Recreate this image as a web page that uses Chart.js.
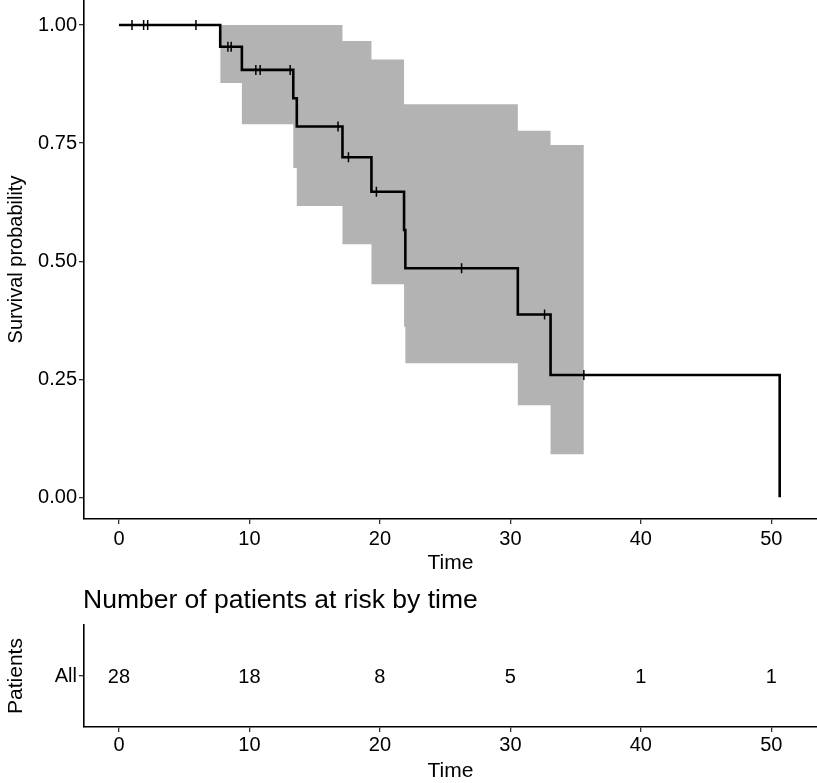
<!DOCTYPE html>
<html><head><meta charset="utf-8">
<script src="https://cdn.jsdelivr.net/npm/chart.js@4.4.1/dist/chart.umd.min.js"></script>
<style>
html,body{margin:0;padding:0;background:#fff;}
#wrap{position:relative;width:817px;height:783px;overflow:hidden;background:#fff;}
#c1{position:absolute;left:0;top:0;}
#c2{position:absolute;left:0;top:580px;}
</style></head><body>
<div id="wrap"><canvas id="c1" width="817" height="580"></canvas><canvas id="c2" width="817" height="203"></canvas></div>
<script>
// Kaplan-Meier estimate (step function)
const kmTimes = [0, 7.76, 9.42, 13.36, 13.63, 17.13, 19.35, 21.85, 21.95, 30.57, 33.08, 50.64];
const kmSurv  = [1, 0.954, 0.905, 0.845, 0.785, 0.720, 0.647, 0.566, 0.485, 0.387, 0.259, 0];
// Confidence band
const ciTimes = [7.76, 9.42, 13.36, 13.63, 17.13, 19.35, 21.85, 21.95, 30.57, 33.08, 35.63];
const ciUpper = [1, 1, 1, 1, 0.966, 0.927, 0.832, 0.832, 0.776, 0.746, 0.746];
const ciLower = [0.877, 0.790, 0.697, 0.617, 0.536, 0.451, 0.361, 0.284, 0.195, 0.091, 0.091];
// Censored observations
const censorTimes = [1.0, 1.89, 2.2, 5.9, 8.35, 8.6, 10.49, 10.82, 13.12, 16.79, 17.59, 19.73, 26.26, 32.62, 35.63];
const censorSurv  = [1, 1, 1, 1, 0.954, 0.954, 0.905, 0.905, 0.905, 0.785, 0.720, 0.647, 0.485, 0.387, 0.259];
// Axes
const xTicks = [0, 10, 20, 30, 40, 50];
const yTicks = [0, 0.25, 0.5, 0.75, 1];
// Risk table
const riskGroups = ['All'];
const riskTimes  = [0, 10, 20, 30, 40, 50];
const riskCounts = [28, 18, 8, 5, 1, 1];
const riskTitle = 'Number of patients at risk by time';

const FONT = "'Liberation Sans', Arial, Helvetica, sans-serif";
Chart.defaults.font.family = FONT;
Chart.defaults.color = '#000';

const pts = (xs, ys) => xs.map((x, i) => ({x: x, y: ys[i]}));
const noPad = s => { s.paddingTop = 0; s.paddingBottom = 0; s.paddingLeft = 0; s.paddingRight = 0; };

function xScale(height, tickPad, titlePadBottom) {
  return {
    type: 'linear', min: -2.68, max: 53.5,
    afterBuildTicks: s => { s.ticks = xTicks.map(v => ({value: v})); },
    afterFit: s => { s.height = height; noPad(s); },
    ticks: { font: {size: 20}, color: '#000', padding: tickPad, maxRotation: 0, autoSkip: false, callback: v => String(v) },
    grid: { drawOnChartArea: false, drawTicks: true, tickLength: 5, color: '#333', lineWidth: 1.3 },
    border: { display: true, color: '#000', width: 1.6 },
    title: { display: true, text: 'Time', font: {size: 21}, color: '#000', padding: {top: 0, bottom: titlePadBottom} }
  };
}

new Chart(document.getElementById('c1'), {
  type: 'line',
  data: { datasets: [
    { label: 'upper', data: pts(ciTimes, ciUpper), stepped: true, borderWidth: 1, borderColor: 'rgba(0,0,0,0)',
      pointRadius: 0, fill: 1, backgroundColor: '#b3b3b3', order: 3 },
    { label: 'lower', data: pts(ciTimes, ciLower), stepped: true, borderWidth: 1, borderColor: 'rgba(0,0,0,0)',
      pointRadius: 0, fill: false, order: 3 },
    { label: 'km', data: pts(kmTimes, kmSurv), stepped: true, borderColor: '#000', borderWidth: 2.6,
      pointRadius: 0, fill: false, order: 1 },
    { label: 'censor', data: pts(censorTimes, censorSurv), showLine: false, pointStyle: 'line', pointRotation: 90,
      pointRadius: 5, pointBorderColor: '#000', pointBorderWidth: 1.5, pointBackgroundColor: '#000', order: 0 }
  ]},
  options: {
    responsive: false, animation: false, events: [],
    layout: { padding: 0, autoPadding: false },
    plugins: { legend: {display: false}, tooltip: {enabled: false} },
    scales: {
      x: xScale(61, 3, 4.5),
      y: {
        type: 'linear', min: -0.046, max: 1.053,
        afterBuildTicks: s => { s.ticks = yTicks.map(v => ({value: v})); },
        afterFit: s => { s.width = 84; noPad(s); },
        ticks: { font: {size: 20}, color: '#000', padding: 2, callback: v => Number(v).toFixed(2) },
        grid: { drawOnChartArea: false, drawTicks: true, tickLength: 5, color: '#333', lineWidth: 1.3 },
        border: { display: true, color: '#000', width: 1.6 },
        title: { display: true, text: 'Survival probability', font: {size: 20}, color: '#000', padding: {top: 4, bottom: 0} }
      }
    }
  }
});

const riskTextPlugin = {
  id: 'riskText',
  afterDatasetsDraw(chart) {
    const ctx = chart.ctx;
    const meta = chart.getDatasetMeta(0);
    ctx.save();
    ctx.font = '20px ' + FONT;
    ctx.fillStyle = '#000';
    ctx.textAlign = 'center';
    ctx.textBaseline = 'middle';
    meta.data.forEach((el, i) => { ctx.fillText(String(riskCounts[i]), el.x, el.y + 1); });
    ctx.restore();
  },
  afterDraw(chart) {
    const ctx = chart.ctx;
    ctx.save();
    ctx.font = '26.5px ' + FONT;
    ctx.fillStyle = '#000';
    ctx.textAlign = 'left';
    ctx.textBaseline = 'middle';
    ctx.fillText(riskTitle, chart.chartArea.left - 1, 21);
    ctx.restore();
  }
};

new Chart(document.getElementById('c2'), {
  type: 'line',
  data: { datasets: [
    { label: 'risk', data: riskTimes.map((t, i) => ({x: t, y: riskGroups[0]})), showLine: false, pointRadius: 0 }
  ]},
  options: {
    responsive: false, animation: false, events: [],
    layout: { padding: {top: 45, left: 0, right: 0, bottom: 0}, autoPadding: false },
    plugins: { legend: {display: false}, tooltip: {enabled: false} },
    scales: {
      x: xScale(56, 1, -1),
      y: {
        type: 'category', labels: riskGroups, offset: true,
        afterFit: s => { s.width = 84; noPad(s); },
        ticks: { font: {size: 20}, color: '#000', padding: 2 },
        grid: { drawOnChartArea: false, drawTicks: true, tickLength: 5, color: '#333', lineWidth: 1.3 },
        border: { display: true, color: '#000', width: 1.6 },
        title: { display: true, text: 'Patients', font: {size: 21}, color: '#000', padding: {top: 4, bottom: 0} }
      }
    }
  },
  plugins: [riskTextPlugin]
});
</script>
</body></html>
